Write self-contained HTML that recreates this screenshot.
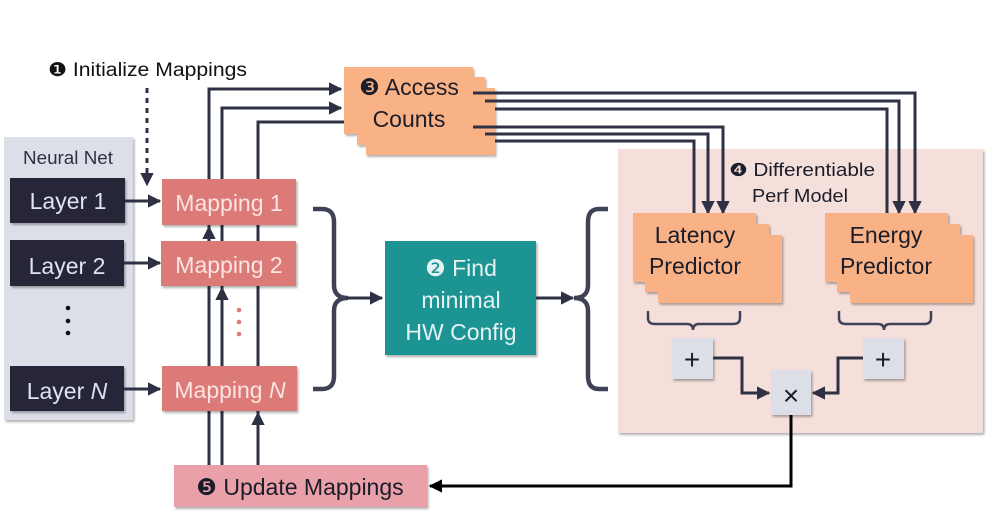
<!DOCTYPE html>
<html><head><style>
body{margin:0;background:#fff;}
svg text{font-family:"Liberation Sans","DejaVu Sans",sans-serif;}
</style></head><body>
<svg width="987" height="512" viewBox="0 0 987 512" xmlns="http://www.w3.org/2000/svg">
<defs>
<marker id="a" viewBox="0 0 10 10" refX="9" refY="5" markerWidth="4.5" markerHeight="4.5" orient="auto"><path d="M0,0L10,5L0,10z" fill="#2e3144"/></marker>
<marker id="ak" viewBox="0 0 10 10" refX="9" refY="5" markerWidth="4.5" markerHeight="4.5" orient="auto"><path d="M0,0L10,5L0,10z" fill="#000"/></marker>
<filter id="s" x="-5%" y="-5%" width="115%" height="120%"><feDropShadow dx="1.5" dy="2" stdDeviation="1" flood-opacity="0.3"/></filter>
</defs>
<rect x="618" y="149" width="365" height="284" fill="#f5dfdb" filter="url(#s)"/>
<rect x="4" y="137" width="129" height="283" fill="#dcdfe8" filter="url(#s)"/>
<text x="68" y="164" font-size="18" fill="#2e3144" text-anchor="middle" textLength="90" lengthAdjust="spacingAndGlyphs">Neural Net</text>
<g filter="url(#s)" fill="#252839">
<rect x="10" y="178" width="115" height="45"/>
<rect x="10" y="240" width="114" height="46"/>
<rect x="10" y="366" width="114" height="45"/>
</g>
<g fill="#dfe3f2" font-size="23" text-anchor="middle">
<text x="68" y="209">Layer 1</text>
<text x="67" y="274">Layer 2</text>
<text x="67" y="399">Layer <tspan font-style="italic">N</tspan></text>
</g>
<g fill="#111"><circle cx="68" cy="308" r="2.3"/><circle cx="68" cy="321" r="2.3"/><circle cx="68" cy="333" r="2.3"/></g>
<g fill="#e07a78"><circle cx="239" cy="310" r="2.3"/><circle cx="239" cy="322" r="2.3"/><circle cx="239" cy="334" r="2.3"/></g>
<text x="48" y="76" font-size="19" fill="#111" textLength="199" lengthAdjust="spacingAndGlyphs">❶ Initialize Mappings</text>
<line x1="147" y1="88" x2="147" y2="185" stroke="#2e3144" stroke-width="3" stroke-dasharray="5,5" marker-end="url(#a)"/>
<g stroke="#2e3144" stroke-width="3" fill="none">
<path d="M209,465 V89 H341" marker-end="url(#a)"/>
<path d="M222,465 V108 H341" marker-end="url(#a)"/>
<path d="M258,465 V122 H346"/>
<line x1="125" y1="201" x2="160" y2="201" marker-end="url(#a)"/>
<line x1="124" y1="263" x2="160" y2="263" marker-end="url(#a)"/>
<line x1="124" y1="389" x2="160" y2="389" marker-end="url(#a)"/>
</g>
<g fill="#dc7a77" filter="url(#s)">
<rect x="162" y="179" width="134" height="46"/>
<rect x="161" y="241" width="135" height="45"/>
<rect x="162" y="366" width="135" height="45"/>
</g>
<g stroke="#2e3144" stroke-width="3" fill="none">
<line x1="209" y1="240" x2="209" y2="227" marker-end="url(#a)"/>
<line x1="222" y1="300" x2="222" y2="288" marker-end="url(#a)"/>
<line x1="258" y1="430" x2="258" y2="413" marker-end="url(#a)"/>
</g>
<g fill="#fbe4e2" font-size="23" text-anchor="middle">
<text x="229" y="211">Mapping 1</text>
<text x="229" y="273">Mapping 2</text>
<text x="230" y="398">Mapping <tspan font-style="italic">N</tspan></text>
</g>
<rect x="174" y="465" width="253" height="42" fill="#eaa0a8" filter="url(#s)"/>
<text x="300" y="495" font-size="23" fill="#1b1d2a" text-anchor="middle">❺ Update Mappings</text>
<g filter="url(#s)" fill="#f9b286">
<rect x="366" y="88" width="129" height="67"/>
<rect x="357" y="77" width="128" height="68"/>
<rect x="344" y="67" width="129" height="67"/>
</g>
<text x="409" y="95" font-size="23" fill="#1b1d2a" text-anchor="middle">❸ Access</text>
<text x="409" y="127" font-size="23" fill="#1b1d2a" text-anchor="middle">Counts</text>
<g stroke="#2e3144" stroke-width="3" fill="none">
<path d="M473,93 H915 V213" marker-end="url(#a)"/>
<path d="M485,101 H899 V213" marker-end="url(#a)"/>
<path d="M495,109 H887 V213"/>
<path d="M473,127 H723 V213" marker-end="url(#a)"/>
<path d="M485,134 H708 V213" marker-end="url(#a)"/>
<path d="M495,141 H694 V213"/>
</g>
<text x="729" y="176" font-size="18" fill="#1b1d2a" textLength="146" lengthAdjust="spacingAndGlyphs">❹ Differentiable</text>
<text x="752" y="202" font-size="18" fill="#1b1d2a" textLength="96" lengthAdjust="spacingAndGlyphs">Perf Model</text>
<g filter="url(#s)" fill="#f9b286">
<rect x="658" y="235" width="124" height="68"/>
<rect x="645" y="224" width="124" height="68"/>
<rect x="633" y="213" width="123" height="69"/>
<rect x="850" y="235" width="123" height="68"/>
<rect x="837" y="224" width="123" height="68"/>
<rect x="825" y="213" width="123" height="69"/>
</g>
<g font-size="23" fill="#1b1d2a" text-anchor="middle">
<text x="695" y="243">Latency</text>
<text x="695" y="274">Predictor</text>
<text x="886" y="243">Energy</text>
<text x="886" y="274">Predictor</text>
</g>
<g stroke="#3f4256" stroke-width="2.5" fill="none">
<path d="M648,311 V318 Q648,324 655,324 H687 Q693,324 693,330 Q693,324 699,324 H733 Q740,324 740,318 V311"/>
<path d="M839,311 V318 Q839,324 846,324 H878 Q884,324 884,330 Q884,324 890,324 H924 Q931,324 931,318 V311"/>
</g>
<g filter="url(#s)" fill="#dcdfe8">
<rect x="672" y="338" width="41" height="41"/>
<rect x="863" y="338" width="41" height="41"/>
<rect x="771" y="370" width="40" height="45"/>
</g>
<g font-size="28" fill="#1b1d2a" text-anchor="middle">
<text x="692" y="369">+</text><text x="883" y="369">+</text>
<text x="791" y="405" font-size="28">×</text>
</g>
<g stroke="#2e3144" stroke-width="3" fill="none">
<path d="M713,358 H742 V393 H769" marker-end="url(#a)"/>
<path d="M863,358 H838 V393 H813" marker-end="url(#a)"/>
</g>
<path d="M791,415 V486 H430" stroke="#000" stroke-width="3" fill="none" marker-end="url(#ak)"/>
<rect x="385" y="241" width="151" height="114" fill="#1a9494" filter="url(#s)"/>
<g font-size="23" fill="#e6f2f2" text-anchor="middle">
<text x="461" y="276">❷ Find</text>
<text x="461" y="308">minimal</text>
<text x="461" y="340">HW Config</text>
</g>
<g stroke="#3f4256" stroke-width="4.5" fill="none">
<path d="M313,209 H322 Q334,209 334,222 V285 Q334,298 348,298 Q334,298 334,311 V376 Q334,389 322,389 H313"/>
<path d="M608,209 H599 Q588,209 588,222 V285 Q588,298 574,298 Q588,298 588,311 V376 Q588,389 599,389 H608"/>
</g>
<g stroke="#2e3144" stroke-width="3" fill="none">
<line x1="346" y1="298" x2="382" y2="298" marker-end="url(#a)"/>
<line x1="536" y1="298" x2="573" y2="298" marker-end="url(#a)"/>
</g>
</svg>
</body></html>
